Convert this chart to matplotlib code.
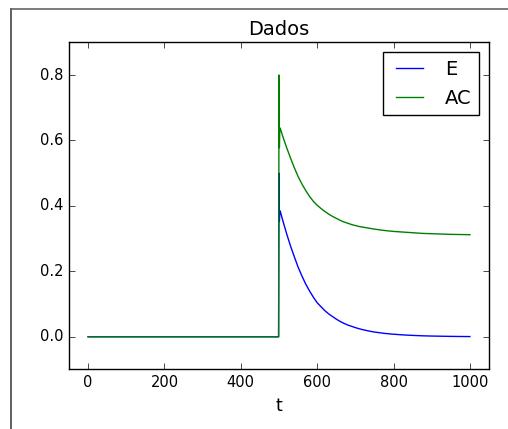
import numpy as np
import matplotlib
matplotlib.use("Agg")
from matplotlib import pyplot as plt
from matplotlib.lines import Line2D

# values
t = [0, 499, 500, 501, 502, 503, 510, 520, 530, 540, 550, 560, 570, 580, 590,
     600, 610, 620, 630, 640, 650, 660, 670, 680, 690, 700, 710, 720, 730,
     740, 750, 775, 800, 825, 850, 875, 900, 950, 1000]
E = [0.0, 0.0, 0.50, 0.353, 0.383, 0.385, 0.355, 0.315, 0.278, 0.245, 0.213,
     0.186, 0.161, 0.140, 0.121, 0.104, 0.092, 0.080, 0.070, 0.062, 0.054,
     0.047, 0.041, 0.036, 0.032, 0.028, 0.0245, 0.0215, 0.019, 0.0165,
     0.0145, 0.0105, 0.0078, 0.0057, 0.0042, 0.003, 0.0022, 0.0012, 0.0006]
AC = [0.0, 0.0, 0.80, 0.578, 0.634, 0.638, 0.612, 0.578, 0.547, 0.517, 0.490,
      0.467, 0.447, 0.429, 0.414, 0.402, 0.392, 0.383, 0.375, 0.368, 0.362,
      0.356, 0.351, 0.347, 0.343, 0.340, 0.337, 0.335, 0.333, 0.331, 0.329,
      0.325, 0.322, 0.320, 0.318, 0.316, 0.315, 0.313, 0.312]

plt.style.use('classic')
plt.rcParams['figure.facecolor'] = 'white'
plt.rcParams['savefig.facecolor'] = 'white'

fig = plt.figure(figsize=(5.08, 4.29), dpi=100)
ax = fig.add_axes([0.1358, 0.1387, 0.8268, 0.7627])

ax.plot(t, E, color='b', lw=1.0, label='E')
ax.plot(t, AC, color='g', lw=1.0, label='AC')

ax.set_xlim(-50, 1050)
ax.set_ylim(-0.1, 0.9)
ax.set_xticks([0, 200, 400, 600, 800, 1000])
ax.set_yticks([0.0, 0.2, 0.4, 0.6, 0.8])
ax.tick_params(labelsize=10.5)
ax.set_title('Dados', fontsize=14)
ax.set_xlabel('t', fontsize=12.5)

# numpoints=2 leaves a small pad on both ends of the legend line
leg = ax.legend(loc='upper right', fontsize=14, fancybox=False,
                numpoints=2, handlelength=2.0)
leg.get_frame().set_linewidth(1.0)

# border of the original screenshot
fig.add_artist(Line2D([10.5 / 508, 10.5 / 508], [0, 1 - 8.5 / 429],
                      transform=fig.transFigure, color='#444444', lw=1.2))
fig.add_artist(Line2D([10.5 / 508, 1], [1 - 8.5 / 429, 1 - 8.5 / 429],
                      transform=fig.transFigure, color='#666666', lw=1.2))

fig.savefig('out.png', dpi=100)
